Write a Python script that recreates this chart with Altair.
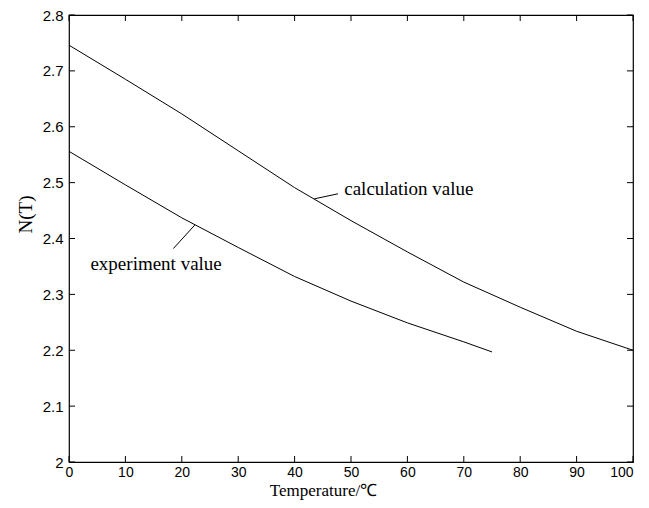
import altair as alt
import pandas as pd

# ---- data ----
temp_calc = [0, 10, 20, 30, 40, 50, 60, 70, 80, 90, 100]
n_calc = [2.746, 2.685, 2.623, 2.557, 2.491, 2.432, 2.376, 2.322, 2.277, 2.234, 2.200]

temp_exp = [0, 10, 20, 30, 40, 50, 60, 70, 75]
n_exp = [2.556, 2.496, 2.437, 2.384, 2.332, 2.288, 2.249, 2.215, 2.197]

x_ticks = [0, 10, 20, 30, 40, 50, 60, 70, 80, 90, 100]
y_ticks = [2.0, 2.1, 2.2, 2.3, 2.4, 2.5, 2.6, 2.7, 2.8]

ann_text = ["calculation value", "experiment value"]
ann_tx = [48.8, 3.8]
ann_ty = [2.489, 2.355]
lead_x1 = [43.5, 22.3]
lead_y1 = [2.471, 2.424]
lead_x2 = [47.7, 18.5]
lead_y2 = [2.480, 2.382]

# ---- tables ----
df_lines = pd.concat([
    pd.DataFrame({"T": temp_calc, "N": n_calc, "s": "calc"}),
    pd.DataFrame({"T": temp_exp, "N": n_exp, "s": "exp"}),
])
df_xt = pd.DataFrame({"T": x_ticks})
df_yt = pd.DataFrame({"N": y_ticks})
df_ann = pd.DataFrame({"label": ann_text, "T": ann_tx, "N": ann_ty})
df_lead = pd.DataFrame({"T": lead_x1, "N": lead_y1, "T2": lead_x2, "N2": lead_y2})

W, H = 564, 447
xs = alt.Scale(domain=[0, 100], nice=False, zero=False)
ys = alt.Scale(domain=[2.0, 2.8], nice=False, zero=False)

serif = "Liberation Serif"
sans = "Liberation Sans"

x_axis = alt.Axis(values=x_ticks, title="Temperature/\u2103", grid=False, ticks=False, tickSize=0,
                  domain=False, labelFont=sans, labelFontSize=14, labelColor="black",
                  labelPadding=3, labelFlush=False, labelOverlap=False,
                  labelAlign=alt.ExprRef(expr="datum.value >= 100 ? 'right' : 'center'"),
                  titleFont=serif, titleFontSize=17, titleFontWeight="normal", titleColor="black",
                  titleX=254, titleY=33, titleBaseline="alphabetic", titleAlign="center")
y_axis = alt.Axis(values=y_ticks, title="N(T)", grid=False, ticks=False, tickSize=0,
                  domain=False, labelFont=sans, labelFontSize=15, labelColor="black",
                  labelPadding=6, labelFlush=False, labelOverlap=False, format=".1~f",
                  titleFont=serif, titleFontSize=19, titleFontWeight="normal", titleColor="black",
                  titleX=-38, titleY=199, titleAngle=-90, titleBaseline="alphabetic",
                  titleAlign="center")

X = lambda f: alt.X(f, type="quantitative", scale=xs, axis=x_axis)
Y = lambda f: alt.Y(f, type="quantitative", scale=ys, axis=y_axis)

lines = alt.Chart(df_lines).mark_line(color="black", strokeWidth=1).encode(
    x=X("T"), y=Y("N"), detail="s:N",
)

xt_bottom = alt.Chart(df_xt).mark_rule(color="black", strokeWidth=1).encode(
    x=X("T"), y=alt.value(H), y2=alt.value(H - 6))
xt_top = alt.Chart(df_xt).mark_rule(color="black", strokeWidth=1).encode(
    x=X("T"), y=alt.value(0), y2=alt.value(6))
yt_left = alt.Chart(df_yt).mark_rule(color="black", strokeWidth=1).encode(
    y=Y("N"), x=alt.value(0), x2=alt.value(6))
yt_right = alt.Chart(df_yt).mark_rule(color="black", strokeWidth=1).encode(
    y=Y("N"), x=alt.value(W), x2=alt.value(W - 6))

leads = alt.Chart(df_lead).mark_rule(color="black", strokeWidth=1).encode(
    x=X("T"), y=Y("N"), x2="T2:Q", y2="N2:Q")

texts = alt.Chart(df_ann).mark_text(font=serif, fontSize=19, color="black",
                                    align="left", baseline="middle").encode(
    x=X("T"), y=Y("N"), text="label:N")

chart = alt.layer(lines, xt_bottom, xt_top, yt_left, yt_right, leads, texts).properties(
    width=W, height=H, autosize="none",
    padding={"left": 61, "top": 7, "right": 8, "bottom": 38},
).configure_view(stroke="black", strokeWidth=1.2)

chart.save("out.html", embed_options={"renderer": "svg", "actions": False})
